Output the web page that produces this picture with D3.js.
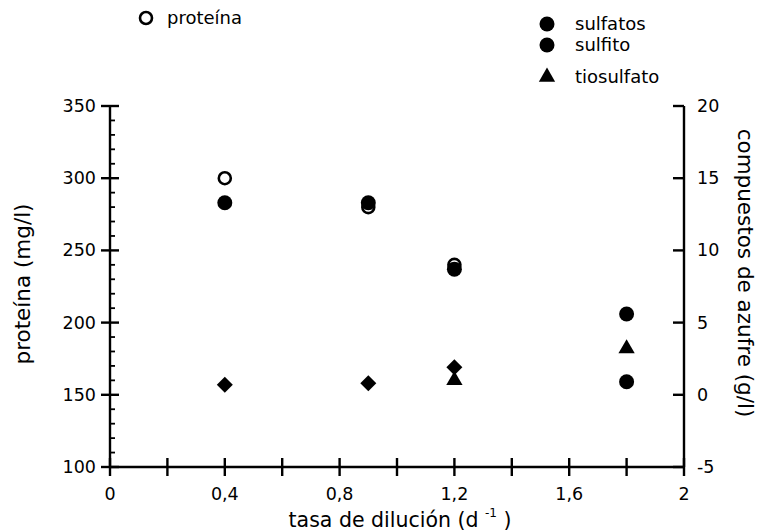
<!DOCTYPE html>
<html><head><meta charset="utf-8">
<script src="https://cdn.jsdelivr.net/npm/d3@7"></script>
<style>body{margin:0;background:#fff}svg{display:block}text{font-family:"DejaVu Sans",sans-serif;fill:#000}</style>
</head><body><svg id="c" width="766" height="532"></svg>
<script>
const dilution = [0.4, 0.9, 1.2, 1.8];
const proteina = [300, 280, 240, null];
const sulfatos = [13.3, 13.3, 8.7, 5.6];
const sulfito = [0.7, 0.8, 1.9, 0.9];
const sulfitoShapes = ["diamond", "diamond", "diamond", "circle"];
const tiosulfato = [null, null, 1.0, 3.2];
const xTicks = [0, 0.4, 0.8, 1.2, 1.6, 2];
const xTickLabels = ["0", "0,4", "0,8", "1,2", "1,6", "2"];
const leftTicks = [100, 150, 200, 250, 300, 350];
const rightTicks = [-5, 0, 5, 10, 15, 20];
const rightTickLabels = ["-5", "0", "5", "10", "15", "20"];

const svg = d3.select("#c");
const x = d3.scaleLinear().domain([0, 2]).range([110, 684]);
const yL = d3.scaleLinear().domain([100, 350]).range([467, 106]);
const yR = d3.scaleLinear().domain([-5, 20]).range([467, 106]);
const g = svg.append("g").attr("stroke", "#000").attr("stroke-width", 2.4);

// axis lines
g.append("line").attr("x1", x(0)).attr("x2", x(0)).attr("y1", yL(350)).attr("y2", yL(100));
g.append("line").attr("x1", x(0)).attr("x2", x(2)).attr("y1", yL(100)).attr("y2", yL(100));
g.append("line").attr("x1", x(2)).attr("x2", x(2)).attr("y1", yR(20)).attr("y2", yR(-5));

// left major ticks (crossing)
g.selectAll(".lt").data(leftTicks).enter().append("line")
  .attr("x1", x(0) - 9).attr("x2", x(0) + 9).attr("y1", d => yL(d)).attr("y2", d => yL(d));
// left minor ticks
g.selectAll(".lm").data(d3.range(110, 350, 10).filter(v => v % 50 !== 0)).enter().append("line")
  .attr("x1", x(0)).attr("x2", x(0) + 5).attr("y1", d => yL(d)).attr("y2", d => yL(d)).attr("stroke-width", 1.8);
// bottom ticks
g.selectAll(".bt").data(d3.range(0, 11).map(i => i * 0.2)).enter().append("line")
  .attr("x1", d => x(d)).attr("x2", d => x(d)).attr("y1", yL(100) - 9).attr("y2", yL(100) + 9);
// right ticks
g.selectAll(".rt").data(rightTicks).enter().append("line")
  .attr("x1", x(2) - 11).attr("x2", x(2)).attr("y1", d => yR(d)).attr("y2", d => yR(d));

// tick labels
const fs = 17.5;
svg.selectAll(".ll").data(leftTicks).enter().append("text")
  .attr("x", 96).attr("y", d => yL(d) + 6).attr("text-anchor", "end").attr("font-size", fs).text(d => d);
svg.selectAll(".rl").data(rightTicks).enter().append("text")
  .attr("x", 697).attr("y", (d) => yR(d) + 6).attr("font-size", fs).text((d, i) => rightTickLabels[i]);
svg.selectAll(".xl").data(xTicks).enter().append("text")
  .attr("x", d => x(d)).attr("y", 500).attr("text-anchor", "middle").attr("font-size", fs).text((d, i) => xTickLabels[i]);

// axis titles
svg.append("text").attr("transform", "translate(30,284) rotate(-90)").attr("text-anchor", "middle")
  .attr("font-size", 21.5).text("proteína (mg/l)");
svg.append("text").attr("transform", "translate(738,273) rotate(90)").attr("text-anchor", "middle")
  .attr("font-size", 21.5).text("compuestos de azufre (g/l)");
const xt = svg.append("text").attr("x", 400).attr("y", 527).attr("text-anchor", "middle").attr("font-size", 20.5);
xt.append("tspan").text("tasa de dilución (d ");
xt.append("tspan").attr("font-size", 12).attr("dy", -10).text("-1");
xt.append("tspan").attr("dy", 10).text(" )");

// data marks
const diamondPath = "M0,-8L8,0L0,8L-8,0Z";
const tri = d3.symbol().type(d3.symbolTriangle).size(115);

svg.selectAll(".p").data(dilution.map((d, i) => [d, proteina[i]]).filter(d => d[1] != null)).enter()
  .append("circle").attr("cx", d => x(d[0])).attr("cy", d => yL(d[1])).attr("r", 6)
  .attr("fill", "#fff").attr("stroke", "#000").attr("stroke-width", 2.6);
svg.selectAll(".s").data(dilution.map((d, i) => [d, sulfatos[i]])).enter()
  .append("circle").attr("cx", d => x(d[0])).attr("cy", d => yR(d[1])).attr("r", 7.5).attr("fill", "#000");
svg.selectAll(".t").data(dilution.map((d, i) => [d, tiosulfato[i]]).filter(d => d[1] != null)).enter()
  .append("path").attr("d", tri).attr("transform", d => `translate(${x(d[0])},${yR(d[1])})`).attr("fill", "#000");
const sf = dilution.map((d, i) => [d, sulfito[i], sulfitoShapes[i]]);
svg.selectAll(".sd").data(sf.filter(d => d[2] === "diamond")).enter()
  .append("path").attr("d", diamondPath).attr("transform", d => `translate(${x(d[0])},${yR(d[1])})`).attr("fill", "#000");
svg.selectAll(".sc").data(sf.filter(d => d[2] === "circle")).enter()
  .append("circle").attr("cx", d => x(d[0])).attr("cy", d => yR(d[1])).attr("r", 7.5).attr("fill", "#000");

// legends
svg.append("circle").attr("cx", 146).attr("cy", 18).attr("r", 6).attr("fill", "#fff").attr("stroke", "#000").attr("stroke-width", 2.6);
svg.append("text").attr("x", 167).attr("y", 24).attr("font-size", 18).text("proteína");
const legR = [["circle", "sulfatos", 24], ["circle", "sulfito", 45], ["triangle", "tiosulfato", 77]];
legR.forEach(([s, t, y]) => {
  if (s === "circle") svg.append("circle").attr("cx", 547).attr("cy", y).attr("r", 7.5).attr("fill", "#000");
  else svg.append("path").attr("d", tri).attr("transform", `translate(547,${y})`).attr("fill", "#000");
  svg.append("text").attr("x", 575).attr("y", y + 6).attr("font-size", 18).text(t);
});
</script></body></html>
